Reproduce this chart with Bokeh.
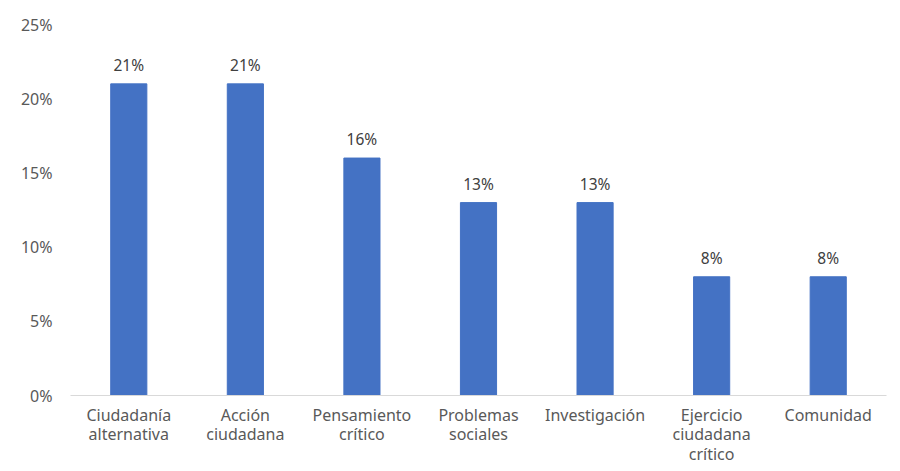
from bokeh.plotting import figure
from bokeh.models import ColumnDataSource, NumeralTickFormatter, FixedTicker, Range1d
from bokeh.core.properties import value
from bokeh.embed import file_html
from bokeh.resources import INLINE

categories = ["Ciudadanía\nalternativa", "Acción\nciudadana", "Pensamiento\ncrítico",
              "Problemas\nsociales", "Investigación", "Ejercicio\nciudadana\ncrítico", "Comunidad"]
values = [0.21, 0.21, 0.16, 0.13, 0.13, 0.08, 0.08]
labels = ["21%", "21%", "16%", "13%", "13%", "8%", "8%"]
y_ticks = [0, 0.05, 0.10, 0.15, 0.20, 0.25]

FONT = "Noto Sans"

src = ColumnDataSource(dict(cat=categories, val=values, lab=labels))

p = figure(x_range=categories, y_range=Range1d(0, 0.25),
           frame_width=816, frame_height=371,
           output_backend="svg", toolbar_location=None,
           min_border_left=70, min_border_right=4, min_border_top=24, min_border_bottom=6)
p.vbar(x="cat", top="val", width=0.31, source=src, color="#4472C4")
p.text(x="cat", y="val", text="lab", source=src, y_offset=-8, text_align="center",
       text_baseline="bottom", text_font=value(FONT), text_font_size="15.5px",
       text_color="#404040", text_font_style="bold" if False else "normal")

p.outline_line_color = None
p.xgrid.grid_line_color = None
p.ygrid.grid_line_color = None

p.yaxis.ticker = FixedTicker(ticks=y_ticks)
p.yaxis.formatter = NumeralTickFormatter(format="0%")
p.yaxis.axis_line_color = None
p.yaxis.major_tick_line_color = None
p.yaxis.minor_tick_line_color = None
p.yaxis.major_label_standoff = 12
p.yaxis.major_label_text_font = FONT
p.yaxis.major_label_text_font_size = "16px"
p.yaxis.major_label_text_color = "#595959"

p.xaxis.axis_line_color = "#D9D9D9"
p.xaxis.axis_line_width = 1
p.xaxis.major_tick_line_color = None
p.xaxis.minor_tick_line_color = None
p.xaxis.major_label_standoff = 2
p.xaxis.major_label_text_font = FONT
p.xaxis.major_label_text_font_size = "16px"
p.xaxis.major_label_text_line_height = 0.9
p.xaxis.major_label_text_color = "#595959"
p.x_range.range_padding = 0

open("out.html", "w").write(file_html(p, INLINE))
